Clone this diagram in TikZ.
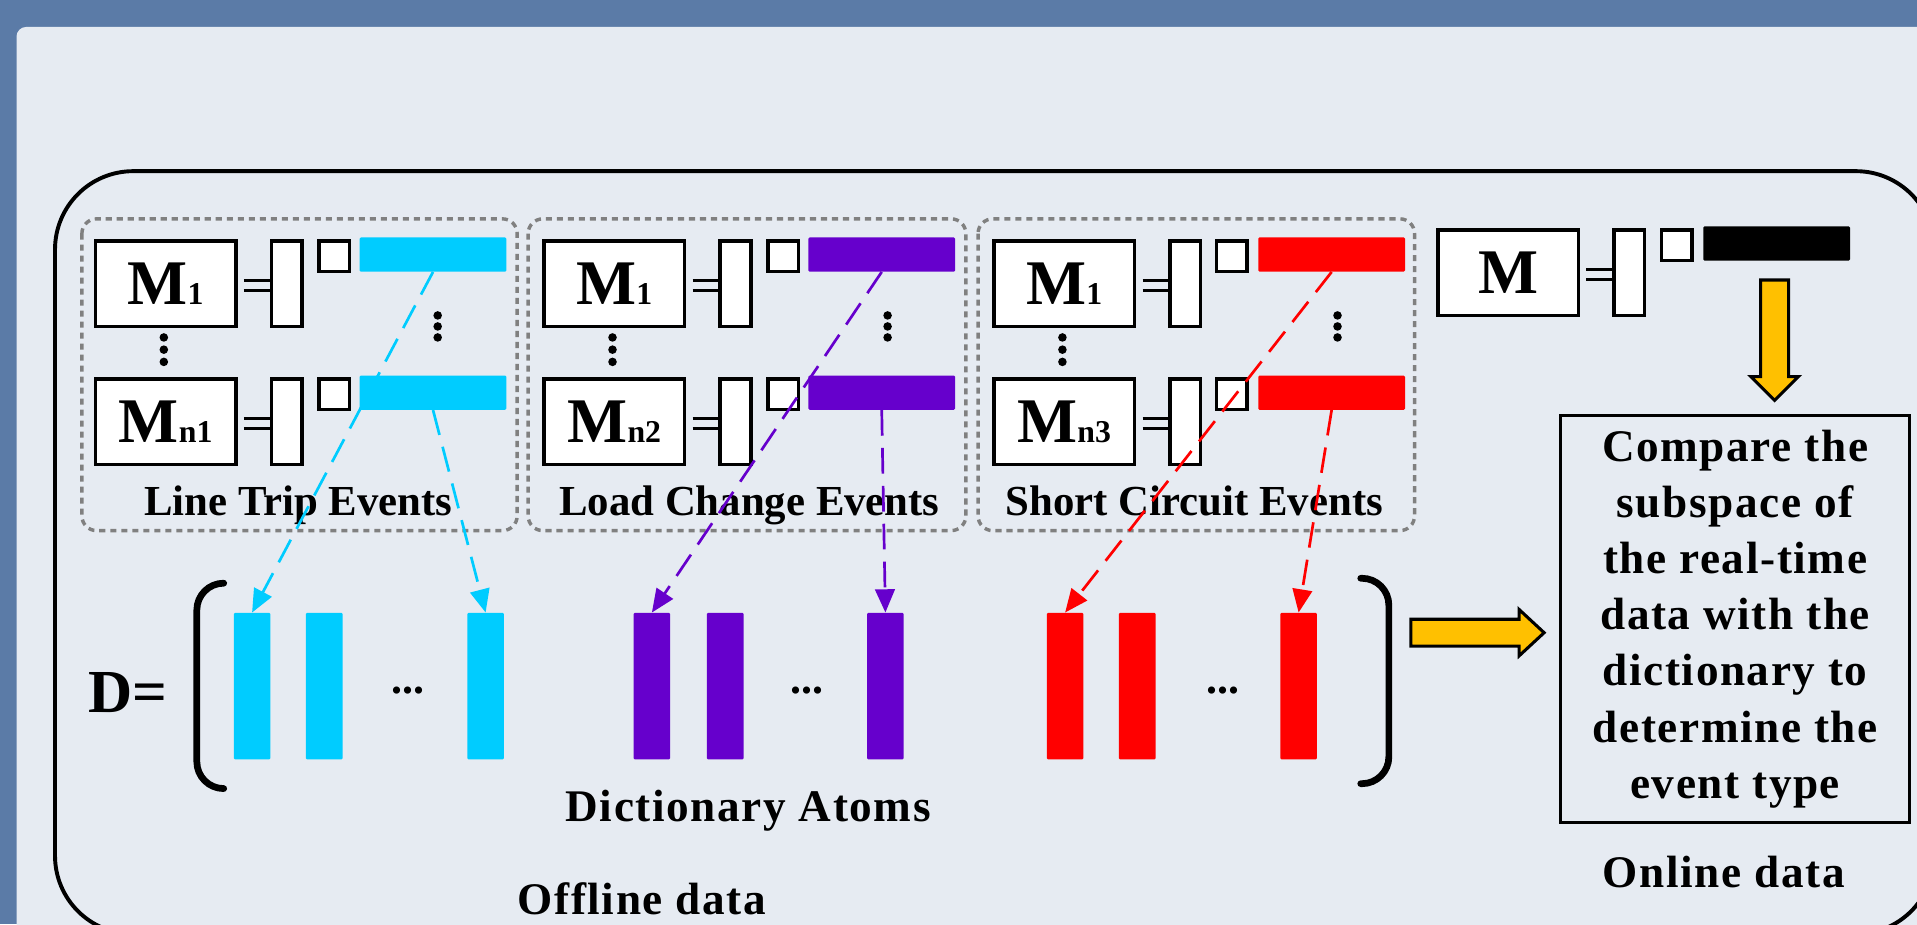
\documentclass[tikz,border=0pt]{standalone}
\usepackage{fontspec}
\setmainfont{Liberation Serif}
\usetikzlibrary{arrows.meta}

\definecolor{frameblue}{RGB}{91,123,167}
\definecolor{panelgray}{RGB}{230,235,242}
\definecolor{ltcyan}{RGB}{0,204,255}
\definecolor{lcpurple}{RGB}{102,0,204}
\definecolor{scred}{RGB}{255,0,0}
\definecolor{arrowgold}{RGB}{255,192,0}
\definecolor{dashgray}{RGB}{128,128,128}

\newcommand{\mname}[1]{{\fontsize{52}{52}\selectfont M}{\fontsize{26}{26}\selectfont #1}}

\begin{document}
\begin{tikzpicture}[x=1pt, y=-1pt, font=\bfseries,
	mbox/.style={draw, fill=white, line width=3pt, inner sep=0pt, anchor=north west, minimum width=115pt, minimum height=70pt},
	vecbox/.style={draw, fill=white, line width=3pt, inner sep=0pt, anchor=north west, minimum width=25pt, minimum height=70pt},
	sqbox/.style={draw, fill=white, line width=3pt, inner sep=0pt, anchor=north west, minimum width=25pt, minimum height=25pt},
	evbar/.style={fill=#1, inner sep=0pt, anchor=north west, minimum width=120pt, minimum height=28pt, rounded corners=1pt},
	atom/.style={fill=#1, inner sep=0pt, anchor=north west, minimum width=30pt, minimum height=120pt, rounded corners=1pt},
	evgroup/.style={draw=dashgray, line width=2.8pt, dash pattern=on 5pt off 4pt, rounded corners=12pt},
	eqline/.style={line width=2.5pt},
	brk/.style={line width=5.5pt, line cap=round, rounded corners=22pt},
	evlink/.style={draw=#1, line width=2.2pt, dash pattern=on 21pt off 10pt, -{Triangle[length=19pt,width=16pt]}},
	bigarrow/.style={draw, fill=arrowgold, line width=2.5pt},
	evtext/.style={anchor=base, font=\fontsize{35}{40}\selectfont\bfseries},
	bigtext/.style={anchor=base, font=\fontsize{37}{40}\selectfont\bfseries\addfontfeature{LetterSpace=3.5}}]

	\useasboundingbox (0,0) rectangle (1568,756);
	\fill[frameblue] (0,0) rectangle (1568,756);
	\fill[panelgray, rounded corners=8pt] (13.5,22) rectangle (1600,800);
	\draw[line width=3.2pt, rounded corners=64pt] (45,140) rectangle (1582,764);

	% line trip events
	\draw[evgroup] (67,179) rectangle (423,434);
	\node[mbox] (lt1) at (76.5,195.5) {\mname{1}};
	\node[vecbox] (ltc1) at (220.5,195.5) {};
	\node[sqbox] (lts1) at (259.5,195.5) {};
	\node[evbar=ltcyan] (ltb1) at (294,194) {};
	\node[mbox] (ltn) at (76.5,308.5) {\mname{n1}};
	\node[vecbox] (ltcn) at (220.5,308.5) {};
	\node[sqbox] (ltsn) at (259.5,308.5) {};
	\node[evbar=ltcyan] (ltbn) at (294,307) {};
	\draw[eqline] ([xshift=5pt,yshift=2.5pt]lt1.east) -- ([yshift=2.5pt]ltc1.west)
		([xshift=5pt,yshift=-5.5pt]lt1.east) -- ([yshift=-5.5pt]ltc1.west);
	\draw[eqline] ([xshift=5pt,yshift=2.5pt]ltn.east) -- ([yshift=2.5pt]ltcn.west)
		([xshift=5pt,yshift=-5.5pt]ltn.east) -- ([yshift=-5.5pt]ltcn.west);
	\fill (134,276) circle (3.5) (134,286) circle (3.5) (134,296) circle (3.5);
	\fill (358,258) circle (3.5) (358,267) circle (3.5) (358,276) circle (3.5);
	\node[evtext] (ltlab) at (244,421.5) {Line Trip Events};

	% load change events
	\draw[evgroup] (432,179) rectangle (790,434);
	\node[mbox] (lc1) at (443.5,195.5) {\mname{1}};
	\node[vecbox] (lcc1) at (587.5,195.5) {};
	\node[sqbox] (lcs1) at (626.5,195.5) {};
	\node[evbar=lcpurple] (lcb1) at (661,194) {};
	\node[mbox] (lcn) at (443.5,308.5) {\mname{n2}};
	\node[vecbox] (lccn) at (587.5,308.5) {};
	\node[sqbox] (lcsn) at (626.5,308.5) {};
	\node[evbar=lcpurple] (lcbn) at (661,307) {};
	\draw[eqline] ([xshift=5pt,yshift=2.5pt]lc1.east) -- ([yshift=2.5pt]lcc1.west)
		([xshift=5pt,yshift=-5.5pt]lc1.east) -- ([yshift=-5.5pt]lcc1.west);
	\draw[eqline] ([xshift=5pt,yshift=2.5pt]lcn.east) -- ([yshift=2.5pt]lccn.west)
		([xshift=5pt,yshift=-5.5pt]lcn.east) -- ([yshift=-5.5pt]lccn.west);
	\fill (501,276) circle (3.5) (501,286) circle (3.5) (501,296) circle (3.5);
	\fill (726,258) circle (3.5) (726,267) circle (3.5) (726,276) circle (3.5);
	\node[evtext] (lclab) at (613,421.5) {Load Change Events};

	% short circuit events
	\draw[evgroup] (800,179) rectangle (1157,434);
	\node[mbox] (sc1) at (811.5,195.5) {\mname{1}};
	\node[vecbox] (scc1) at (955.5,195.5) {};
	\node[sqbox] (scs1) at (993.5,195.5) {};
	\node[evbar=scred] (scb1) at (1029,194) {};
	\node[mbox] (scn) at (811.5,308.5) {\mname{n3}};
	\node[vecbox] (sccn) at (955.5,308.5) {};
	\node[sqbox] (scsn) at (993.5,308.5) {};
	\node[evbar=scred] (scbn) at (1029,307) {};
	\draw[eqline] ([xshift=5pt,yshift=2.5pt]sc1.east) -- ([yshift=2.5pt]scc1.west)
		([xshift=5pt,yshift=-5.5pt]sc1.east) -- ([yshift=-5.5pt]scc1.west);
	\draw[eqline] ([xshift=5pt,yshift=2.5pt]scn.east) -- ([yshift=2.5pt]sccn.west)
		([xshift=5pt,yshift=-5.5pt]scn.east) -- ([yshift=-5.5pt]sccn.west);
	\fill (869,276) circle (3.5) (869,286) circle (3.5) (869,296) circle (3.5);
	\fill (1094,258) circle (3.5) (1094,267) circle (3.5) (1094,276) circle (3.5);
	\node[evtext] (sclab) at (977,421.5) {Short Circuit Events};

	% online data
	\node[mbox] (om) at (1174.5,186.5) {{\fontsize{52}{52}\selectfont M}};
	\node[vecbox] (omc) at (1318.5,186.5) {};
	\node[sqbox] (oms) at (1357.5,186.5) {};
	\node[evbar=black] (omb) at (1393,185) {};
	\draw[eqline] ([xshift=5pt,yshift=2.5pt]om.east) -- ([yshift=2.5pt]omc.west)
		([xshift=5pt,yshift=-5.5pt]om.east) -- ([yshift=-5.5pt]omc.west);
	\draw[bigarrow] (1440,229) -- (1463,229) -- (1463,308) -- (1471,308) -- (1451.5,327.5)
		-- (1432,308) -- (1440,308) -- cycle;
	\node[draw, line width=2.5pt, inner sep=0pt, anchor=north west, minimum width=285pt, minimum height=333pt,
		align=center, font=\fontsize{37}{46}\selectfont\bfseries\addfontfeature{LetterSpace=3.5}] (cmp) at (1275.5,338.5)
		{Compare the\\subspace of\\the real-time\\data with the\\dictionary to\\determine the\\event type};
	\node[bigtext] (onlab) at (1410,726) {Online data};

	% dictionary
	\node[anchor=base west, font=\fontsize{50}{50}\selectfont\bfseries] (dlab) at (69,583) {D=};
	\draw[brk] (183,477) -- (161,477) -- (161,645) -- (183,645);
	\draw[brk] (1113,473) -- (1136,473) -- (1136,641) -- (1113,641);
	\node[atom=ltcyan] (ca1) at (191,501) {};
	\node[atom=ltcyan] (ca2) at (250,501) {};
	\node[atom=ltcyan] (ca3) at (382,501) {};
	\node[anchor=base, font=\fontsize{36}{36}\selectfont\bfseries] (cdots) at (334,567) {...};
	\node[atom=lcpurple] (pa1) at (518,501) {};
	\node[atom=lcpurple] (pa2) at (578,501) {};
	\node[atom=lcpurple] (pa3) at (709,501) {};
	\node[anchor=base, font=\fontsize{36}{36}\selectfont\bfseries] (pdots) at (660,567) {...};
	\node[atom=scred] (ra1) at (856,501) {};
	\node[atom=scred] (ra2) at (915,501) {};
	\node[atom=scred] (ra3) at (1047,501) {};
	\node[anchor=base, font=\fontsize{36}{36}\selectfont\bfseries] (rdots) at (1000,567) {...};
	\draw[bigarrow] (1154,506.5) -- (1242.5,506.5) -- (1242.5,498.5) -- (1263,517.5)
		-- (1242.5,536.5) -- (1242.5,528.5) -- (1154,528.5) -- cycle;
	\node[bigtext] (atomlab) at (612,672) {Dictionary Atoms};
	\node[bigtext] (offlab) at (525,748) {Offline data};

	% atoms taken from the events
	\draw[evlink=ltcyan] (ltb1.south) -- (ca1.north);
	\draw[evlink=ltcyan] (ltbn.south) -- (ca3.north);
	\draw[evlink=lcpurple] (lcb1.south) -- (pa1.north);
	\draw[evlink=lcpurple] (lcbn.south) -- (pa3.north);
	\draw[evlink=scred] (scb1.south) -- (ra1.north);
	\draw[evlink=scred] (scbn.south) -- (ra3.north);
\end{tikzpicture}
\end{document}
